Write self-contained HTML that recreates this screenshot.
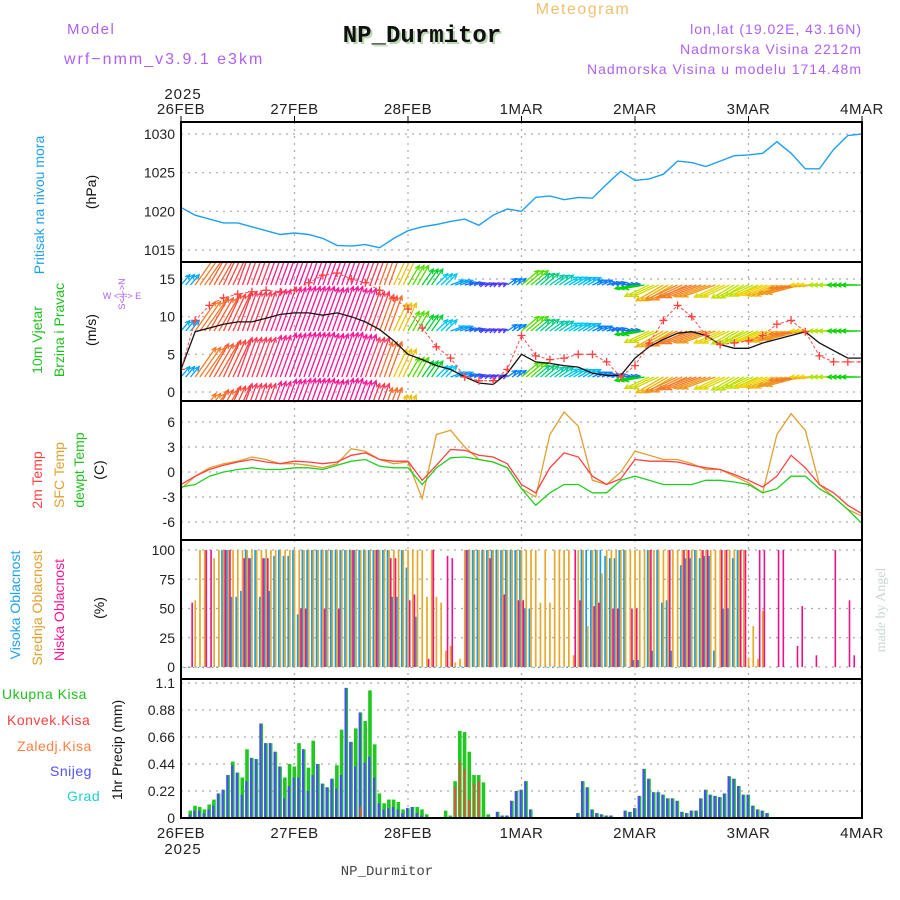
<!DOCTYPE html>
<html><head><meta charset="utf-8"><style>
html,body{margin:0;padding:0;background:#fff}
svg{display:block;font-family:"Liberation Sans",sans-serif}
</style></head><body>
<svg id="chart" width="900" height="900" viewBox="0 0 900 900" xmlns="http://www.w3.org/2000/svg">
<text x="583" y="14" fill="#f0c070" font-size="16" letter-spacing="1.5" text-anchor="middle">Meteogram</text>
<text x="67" y="34" fill="#b060f0" font-size="15" letter-spacing="1.5">Model</text>
<text x="64" y="64" fill="#b060f0" font-size="16" letter-spacing="2">wrf−nmm_v3.9.1 e3km</text>
<text x="424" y="44" fill="#b8d8b0" font-size="24" font-weight="bold" font-family="Liberation Mono, monospace" text-anchor="middle">NP_Durmitor</text>
<text x="422" y="42" fill="#111" font-size="24" font-weight="bold" font-family="Liberation Mono, monospace" text-anchor="middle">NP_Durmitor</text>
<text x="862" y="34" fill="#b060f0" font-size="14" letter-spacing="1" text-anchor="end">lon,lat (19.02E, 43.16N)</text>
<text x="862" y="54" fill="#b060f0" font-size="14" letter-spacing="1" text-anchor="end">Nadmorska Visina 2212m</text>
<text x="862" y="74" fill="#b060f0" font-size="14" letter-spacing="1" text-anchor="end">Nadmorska Visina u modelu 1714.48m</text>
<text x="183" y="99" fill="#222" font-size="15" letter-spacing="1" text-anchor="middle">2025</text>
<text x="183" y="854" fill="#222" font-size="15" letter-spacing="1" text-anchor="middle">2025</text>
<text x="387" y="875" fill="#444" font-size="14" font-family="Liberation Mono, monospace" text-anchor="middle">NP_Durmitor</text>
<text transform="translate(885,610) rotate(-90)" fill="#c8d8d0" font-size="14" font-family="Liberation Serif, serif" text-anchor="middle">made by Angel</text>
<!-- left labels -->
<text transform="translate(44,205) rotate(-90)" fill="#20a0f0" font-size="14" text-anchor="middle">Pritisak na nivou mora</text>
<text transform="translate(96,192) rotate(-90)" fill="#111" font-size="14" text-anchor="middle">(hPa)</text>
<text transform="translate(42,340) rotate(-90)" fill="#20c020" font-size="14" text-anchor="middle">10m Vjetar</text>
<text transform="translate(64,330) rotate(-90)" fill="#20c020" font-size="14" text-anchor="middle">Brzina i Pravac</text>
<text transform="translate(96,330) rotate(-90)" fill="#111" font-size="14" text-anchor="middle">(m/s)</text>
<text x="122" y="299" fill="#b060f0" font-size="9" text-anchor="middle">W  &lt;-|-&gt;  E</text>
<text transform="translate(125,294) rotate(-90)" fill="#b060f0" font-size="9" text-anchor="middle">S&lt;-|-&gt;N</text>
<text transform="translate(42,480) rotate(-90)" fill="#ff4040" font-size="14" text-anchor="middle">2m Temp</text>
<text transform="translate(64,475) rotate(-90)" fill="#e0a030" font-size="14" text-anchor="middle">SFC Temp</text>
<text transform="translate(84,470) rotate(-90)" fill="#20c020" font-size="14" text-anchor="middle">dewpt Temp</text>
<text transform="translate(104,470) rotate(-90)" fill="#111" font-size="14" text-anchor="middle">(C)</text>
<text transform="translate(20,605) rotate(-90)" fill="#20a0f0" font-size="14" text-anchor="middle">Visoka Oblacnost</text>
<text transform="translate(42,608) rotate(-90)" fill="#e0a030" font-size="14" text-anchor="middle">Srednja Oblacnost</text>
<text transform="translate(64,610) rotate(-90)" fill="#ff1493" font-size="14" text-anchor="middle">Niska Oblacnost</text>
<text transform="translate(104,608) rotate(-90)" fill="#111" font-size="14" text-anchor="middle">(%)</text>
<text x="2" y="699" fill="#20c020" font-size="14" letter-spacing="0.5">Ukupna Kisa</text>
<text x="7" y="725" fill="#ff4040" font-size="14" letter-spacing="0.5">Konvek.Kisa</text>
<text x="17" y="751" fill="#ff8040" font-size="14" letter-spacing="0.5">Zaledj.Kisa</text>
<text x="50" y="776" fill="#5050ff" font-size="14" letter-spacing="0.5">Snijeg</text>
<text x="67" y="801" fill="#20d0d0" font-size="14" letter-spacing="0.5">Grad</text>
<text transform="translate(122,750) rotate(-90)" fill="#111" font-size="14" text-anchor="middle">1hr Precip (mm)</text>
<g id="plots"></g>
</svg>
<script>
// ---- data ----
const dayLabels = ["26FEB","27FEB","28FEB","1MAR","2MAR","3MAR","4MAR"];
const pressure = [1020.5,1019.5,1019,1018.5,1018.5,1018,1017.5,1017,1017.2,1017,1016.5,1015.6,1015.5,1015.7,1015.3,1016.5,1017.5,1018,1018.3,1018.7,1019,1018.2,1019.5,1020.3,1020,1021.8,1022,1021.5,1021.8,1021.7,1023.5,1025.2,1024,1024.2,1024.8,1026.5,1026.3,1025.8,1026.5,1027.2,1027.3,1027.5,1029,1027.5,1025.5,1025.5,1028,1029.8,1030];
const pressureTicks = [1015,1020,1025,1030];
const windSpeed = [3,8,8.5,9,9.3,9.3,9.8,10.3,10.5,10.5,10.2,10.5,10,9.3,8.3,6.8,5,4.3,3.5,3,2,1.2,1,2.5,5,4,3.8,3.5,3.3,2.5,2.2,2.2,4.5,6,7,7.8,8,7.5,6.3,5.8,5.8,6.5,7,7.5,8,6.5,5.5,4.5,4.5];
const windGust = [3,9.5,11.5,12.5,13,13.3,13.5,13.3,13.5,14.5,15.5,15.8,15,14.5,13.5,12.5,11,8.5,6,4.5,2,1.5,1.5,3,7.5,4.8,4.3,4.5,5,5,4,2,3.5,6.5,9.5,11.5,10,7.5,6.3,6.5,6.8,7.5,9,9.5,8,4.8,4,4,4];
const windDir = [50,55,60,65,70,70,70,70,70,70,70,70,70,70,70,65,60,55,45,20,15,15,20,35,40,40,35,30,30,25,15,5,190,205,210,205,200,200,205,210,205,200,200,195,185,180,180,180,180];
const windTicks = [0,5,10,15];
const temp2m = [-1.5,-0.5,0.3,0.8,1.2,1.5,1.2,1,1.3,1.2,1,1.2,2,2.3,1.5,1.3,1.3,-1,0.8,2.7,2.6,2,1.8,1,-1.5,-2.5,0.5,2.3,1.8,-0.5,-1.5,-0.8,1.5,1.3,1.3,1.2,0.8,0.5,0.3,-0.3,-1,-1.8,-0.5,2,0.5,-1.5,-2.5,-4,-5];
const tempSfc = [-2,-0.5,0.5,1,1.3,1.8,1.5,1,1,0.8,0.5,1,2.8,2.5,1.5,1,1.2,-3.2,4.5,5,3,1.5,1.2,0.5,-2,-3,4.5,7.2,5.5,-1,-1.5,0,2.5,2,1.5,1.5,1,0.3,0.3,-0.5,-1.3,-2.5,4.5,7,5,-1.5,-3,-4.5,-5.3];
const tempDew = [-1.8,-1.5,-0.5,0,0.3,0.5,0.3,0.3,0.5,0.5,0.3,0.8,1.3,1.5,0.7,0.5,0.5,-1.5,0.5,1.7,1.8,1.5,1.2,0.5,-2,-4,-2.5,-1.5,-1.5,-2.5,-2.5,-1,-0.5,-1,-1.5,-1.5,-1.5,-1,-1,-1.2,-1.5,-2.5,-2,-0.5,-0.5,-2,-3,-4.5,-6.2];
const tempTicks = [-6,-3,0,3,6];
const highCloud = [0,0,0,0,0,0,0,0,0,100,100,60,60,65,100,93,100,60,93,65,95,100,95,95,100,45,100,100,100,100,100,100,100,100,100,100,100,100,100,100,100,100,100,100,100,60,60,100,85,0,43,0,0,0,0,0,0,0,0,0,0,100,100,100,100,100,100,100,100,100,100,100,100,50,50,0,0,0,0,0,0,0,0,0,0,100,100,100,100,100,95,93,93,100,100,0,6,6,0,100,14,100,55,57,14,0,87,93,93,100,93,95,95,14,0,50,50,93,100];
const midCloud = [0,0,0,57,100,100,0,93,100,100,100,100,100,100,100,100,100,100,100,100,100,100,100,100,100,100,100,100,100,100,100,100,100,100,100,100,100,100,100,100,100,100,100,100,100,100,100,100,100,100,100,100,60,100,60,55,14,18,4,7,100,100,100,100,100,100,100,100,100,100,100,100,100,100,100,100,55,100,55,100,100,100,100,10,100,100,35,100,100,80,100,100,100,100,100,100,100,100,100,100,100,100,100,100,100,100,100,100,100,100,100,100,100,100,100,100,100,100,100,100,8,35,7,48];
const lowHours = [2,5,6,9,10,13,14,17,18,25,26,30,33,36,41,44,45,48,49,52,53,56,57,60,65,68,71,72,83,84,87,88,91,92,95,96,99,103,106,107,110,111,114,115,118,119,122,123,126,127,130,131,134,138,141,142];
const lowVals = [55,100,100,100,100,93,93,93,93,50,50,50,50,100,100,93,93,57,62,7,100,95,93,100,93,62,57,57,100,57,52,55,50,50,50,50,100,100,100,100,100,100,100,100,100,100,100,100,100,100,18,52,10,100,57,10];
const cloudTicks = [0,25,50,75,100];
const precipTotal = [0,0,.06,.10,.09,.07,.11,.15,.20,.23,.35,.46,.37,.33,.56,.49,.48,.77,.61,.61,.54,.42,.33,.44,.42,.61,.56,.41,.63,.44,.28,.25,.32,.43,.72,1.06,.62,.73,.86,.79,1.04,.60,.20,.12,.15,.15,.13,.07,.08,.09,.09,.07,.03,0,0,0,.06,.02,.30,.71,.70,.54,.35,.35,.29,.03,0,.05,.02,.02,.14,.22,.23,.30,.07,0,0,0,0,0,0,0,0,0,.04,.30,.25,.07,.04,.03,.02,.02,0,0,.06,.05,.08,.18,.40,.32,.21,.21,.19,.16,.16,.14,.05,.04,.06,.06,.16,.23,.19,.18,.17,.20,.34,.32,.26,.19,.19,.10,.07,.06,.04];
const precipSnow = [0,0,.03,.06,.06,.04,.07,.10,.20,.23,.35,.43,.37,.19,.30,.49,.48,.77,.61,.61,.54,.42,.16,.26,.33,.33,.56,.22,.35,.44,.28,.25,.32,.24,.35,1.06,.62,.42,.86,.45,.50,.33,.12,.07,.08,.09,.07,.04,.08,.09,.04,.02,.01,0,0,0,0,0,0,0,0,0,0,0,0,0,0,.05,.02,.02,.14,.22,.23,.30,.07,0,0,0,0,0,0,0,0,0,.04,.30,.25,.07,.04,.03,.02,.02,0,0,.06,.05,.08,.18,.40,.32,.21,.21,.19,.16,.16,.14,.05,.04,.06,.06,.16,.23,.19,.18,.17,.20,.34,.32,.26,.19,.19,.10,.07,.06,.04];
const convHours = [38,58,59,60,61,62,63];
const convVals = [.09,.25,.46,.40,.15,.28,.30];
const precipTicks = [0,0.22,0.44,0.66,0.88,1.1];

// ---- layout ----
const X0=181, X1=862, HOURS=144;
const xH = h => X0 + h*(X1-X0)/HOURS;
const panels = {
  p:{top:122,bot:262, y:v=>134+(1030-v)*(250-134)/15},
  w:{top:262,bot:401, y:v=>392-v*(392-279)/15},
  t:{top:401,bot:540, y:v=>472-v*(472-422)/6},
  c:{top:540,bot:679, y:v=>667-v*(667-550)/100},
  r:{top:679,bot:818, y:v=>818-v*(818-683)/1.1}
};
const NS="http://www.w3.org/2000/svg";
const plots=document.getElementById('plots');
function mk(tag,attrs,parent){const e=document.createElementNS(NS,tag);for(const k in attrs)e.setAttribute(k,attrs[k]);(parent||plots).appendChild(e);return e;}

// clip paths
const defs=mk('defs',{});
for(const k in panels){const cp=mk('clipPath',{id:'clip-'+k},defs);mk('rect',{x:X0,y:panels[k].top,width:X1-X0,height:panels[k].bot-panels[k].top},cp);}

function grid(key,ticks,fmt){
  const P=panels[key];
  const g=mk('g',{});
  
  
  ticks.forEach(v=>{
    const y=P.y(v);
    const l=mk('line',{x1:X0,x2:X1,y1:y,y2:y,stroke:'#aaa','stroke-dasharray':'2,5','stroke-width':1.2},g);
    
    
    const t=mk('text',{x:X0-6,y:y+5,'text-anchor':'end','font-size':14,fill:'#222'},g);
    
    
    t.textContent=fmt?fmt(v):v;
  });
  dayLabels.forEach((d,i)=>{
    const x=xH(i*24);
    const l=mk('line',{x1:x,x2:x,y1:P.top,y2:P.bot,stroke:'#aaa','stroke-dasharray':'2,5','stroke-width':1.2},g);
    
    
  });
}
grid('p',pressureTicks);
grid('w',windTicks);
grid('t',tempTicks);
grid('c',cloudTicks);
grid('r',precipTicks,v=>v===0?'0':(v===1.1?'1.1':v.toFixed(2)));

function line(key,arr,color,name,w){
  const P=panels[key];
  const pts=arr.map((v,i)=>xH(i*HOURS/(arr.length-1)).toFixed(1)+','+P.y(v).toFixed(1)).join(' ');
  const e=mk('polyline',{points:pts,fill:'none',stroke:color,'stroke-width':w||1.3,'clip-path':'url(#clip-'+key+')'});
  
  
  return e;
}
line('p',pressure,'#1ea0f0','pressure-line',1.4);

// wind arrows
function windColor(s){
  const stops=[[0,[128,0,255]],[2.5,[0,128,255]],[3.5,[0,200,240]],[4.5,[0,210,0]],[5.5,[170,230,0]],[6.5,[240,210,0]],[7.5,[240,150,30]],[9,[255,70,60]],[10,[255,20,150]]];
  if(s<=0)return 'rgb(128,0,255)';
  for(let i=1;i<stops.length;i++){if(s<=stops[i][0]){const a=stops[i-1],b=stops[i],t=(s-a[0])/(b[0]-a[0]);return 'rgb('+a[1].map((c,j)=>Math.round(c+(b[1][j]-c)*t)).join(',')+')';}}
  return 'rgb(255,20,150)';
}
const wg=mk('g',{'clip-path':'url(#clip-w)'});


const rows=[239,285,331,377,423];
for(let h=0;h<=HOURS;h++){
  const i=Math.min(windSpeed.length-1,Math.floor(h/3));
  const s=windSpeed[i], a=windDir[i]*Math.PI/180, L=s*4.5;
  const dx=Math.cos(a)*L, dy=-Math.sin(a)*L, col=windColor(s);
  const x=xH(h);
  rows.forEach(ry=>{
    const ar=mk('line',{x1:x,y1:ry,x2:x+dx,y2:ry+dy,stroke:col,'stroke-width':1.3},wg);
    
    
    const hx=x+dx,hy=ry+dy,hl=5;
    const b1=a+Math.PI-0.45,b2=a+Math.PI+0.45;
    const hd=mk('polyline',{points:(hx+Math.cos(b1)*hl)+','+(hy-Math.sin(b1)*hl)+' '+hx+','+hy+' '+(hx+Math.cos(b2)*hl)+','+(hy-Math.sin(b2)*hl),fill:'none',stroke:col,'stroke-width':1.3},wg);
    
    
  });
}
line('w',windSpeed,'#111','wind-speed-line',1.3);
line('w',windGust,'#ff4a4a','wind-gust-line',1).setAttribute('stroke-dasharray','3,2');
windGust.forEach((v,i)=>{
  const x=xH(i*3),y=panels.w.y(v);
  const c=mk('path',{d:`M${x-4},${y}H${x+4}M${x},${y-4}V${y+4}`,stroke:'#ff4040','stroke-width':1.3,'clip-path':'url(#clip-w)'});
  
  
});

line('t',tempSfc,'#e0a030','sfc-temp-line',1.3);
line('t',temp2m,'#ff4040','temp-2m-line',1.3);
line('t',tempDew,'#20d020','dewpoint-line',1.3);

// clouds
function cbar(key,h,v,off,w,color,name){
  const P=panels[key];const y=P.y(v),y0=P.y(0);
  const r=mk('rect',{x:xH(h)+off,y:Math.min(y,y0),width:w,height:Math.max(0.8,Math.abs(y0-y)),fill:color,'clip-path':'url(#clip-'+key+')'});
  
  
}
highCloud.forEach((v,h)=>cbar('c',h,v,-2.4,1.7,'#10a0f0','high-cloud-bar'));
midCloud.forEach((v,h)=>cbar('c',h,v,-0.8,1.7,'#e8a828','mid-cloud-bar'));
lowHours.forEach((h,i)=>cbar('c',h,lowVals[i],0.9,1.6,'#f01088','low-cloud-bar'));

// precip
precipTotal.forEach((v,h)=>{if(v>0)cbar('r',h,v,-2,3.6,'#20c820','total-precip-bar');});
precipSnow.forEach((v,h)=>{if(v>0)cbar('r',h,v,-2,2.2,'#4a4aff','snow-bar');});
convHours.forEach((h,i)=>cbar('r',h,convVals[i],-1,1.6,'#ff4040','convective-precip-bar'));

// panel frames
for(const k in panels){
  const P=panels[k];
  const f=mk('rect',{x:X0,y:P.top,width:X1-X0,height:P.bot-P.top,fill:'none',stroke:'#000','stroke-width':2});
  
  
}
// date labels
dayLabels.forEach((d,i)=>{
  const x=xH(i*24);
  const t1=mk('text',{x:x,y:114,'text-anchor':'middle','font-size':15,fill:'#222','letter-spacing':'0.5'});
  
  
  t1.textContent=d;
  const t2=mk('text',{x:x,y:838,'text-anchor':'middle','font-size':15,fill:'#222','letter-spacing':'0.5'});
  
  
  t2.textContent=d;
  const tk=mk('line',{x1:x,x2:x,y1:116,y2:122,stroke:'#000'});
  
  
});
</script>
</body></html>
